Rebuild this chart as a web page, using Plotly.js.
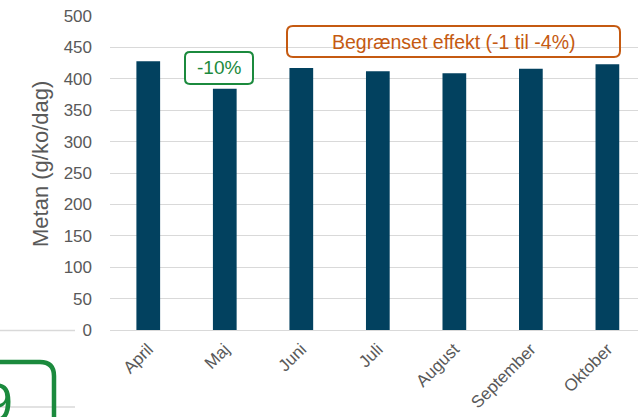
<!DOCTYPE html>
<html>
<head>
<meta charset="utf-8">
<script src="https://cdn.plot.ly/plotly-3.0.1.min.js"></script>
<style>html,body{margin:0;padding:0;background:#fff;}#chart{width:638px;height:417px;}</style>
</head>
<body>
<div id="chart"></div>
<script>
// Data
const months = ["April", "Maj", "Juni", "Juli", "August", "September", "Oktober"];
const methane = [428, 384, 417, 412, 409, 416, 423];
const yTickValues = [0, 50, 100, 150, 200, 250, 300, 350, 400, 450, 500];
const yTitle = "Metan (g/ko/dag)";
const noteGreen = "-10%";
const noteOrange = "Begrænset effekt (-1 til -4%)";
const neighbourText = "9";

// Layout geometry (pixels)
const W = 638, H = 417;
const mL = 110, mR = 0, mT = 16, mB = 87;
const plotW = W - mL - mR, plotH = H - mT - mB;
const px = x => (x - mL) / plotW;
const py = y => (H - mB - y) / plotH;

function roundRect(x0, y0, x1, y1, r) {
  const p = (x, y) => px(x).toFixed(5) + "," + py(y).toFixed(5);
  return "M" + p(x0 + r, y0) + " L" + p(x1 - r, y0) + " Q" + p(x1, y0) + " " + p(x1, y0 + r) +
    " L" + p(x1, y1 - r) + " Q" + p(x1, y1) + " " + p(x1 - r, y1) +
    " L" + p(x0 + r, y1) + " Q" + p(x0, y1) + " " + p(x0, y1 - r) +
    " L" + p(x0, y0 + r) + " Q" + p(x0, y0) + " " + p(x0 + r, y0) + " Z";
}

const green = "#1B8A3D";
const orange = "#C55A11";
const grey = "#595959";

const trace = {
  type: "bar",
  x: months,
  y: methane,
  width: 0.31,
  marker: {color: "#02415F"},
  hoverinfo: "skip"
};

const layout = {
  width: W, height: H,
  margin: {l: mL, r: mR, t: mT, b: mB, pad: 0},
  paper_bgcolor: "#ffffff",
  plot_bgcolor: "#ffffff",
  showlegend: false,
  font: {family: "Liberation Sans, Arial, sans-serif", color: grey},
  xaxis: {
    type: "category",
    range: [-0.5, 6.4],
    tickangle: -45,
    ticks: "",
    ticklabelstandoff: 5,
    tickfont: {size: 17, color: grey},
    showgrid: false,
    showline: false,
    zeroline: false
  },
  yaxis: {
    range: [0, 500],
    tickvals: yTickValues,
    ticks: "",
    ticklabelstandoff: 17,
    tickfont: {size: 17, color: grey},
    showgrid: true,
    gridcolor: "#D9D9D9",
    gridwidth: 1,
    zeroline: true,
    zerolinecolor: "#D9D9D9",
    zerolinewidth: 1,
    showline: false
  },
  shapes: [
    {type: "path", xref: "paper", yref: "paper", path: roundRect(185, 52, 253, 84, 5),
     line: {color: green, width: 2}, fillcolor: "rgba(255,255,255,1)", layer: "above"},
    {type: "path", xref: "paper", yref: "paper", path: roundRect(287, 26, 620, 57, 6),
     line: {color: orange, width: 2}, fillcolor: "rgba(0,0,0,0)", layer: "above"},
    // cut-off neighbour chart on the left
    {type: "line", xref: "paper", yref: "paper", x0: px(0), x1: px(75), y0: py(330.5), y1: py(330.5),
     line: {color: "#D9D9D9", width: 1.5}},
    {type: "line", xref: "paper", yref: "paper", x0: px(0), x1: px(75), y0: py(407), y1: py(407),
     line: {color: "#D9D9D9", width: 1.5}},
    {type: "path", xref: "paper", yref: "paper", path: roundRect(-30, 362, 54, 470, 14),
     line: {color: green, width: 4.5}, fillcolor: "rgba(0,0,0,0)"}
  ],
  annotations: [
    {xref: "paper", yref: "paper", x: px(40), y: py(164), text: yTitle, textangle: -90,
     showarrow: false, xanchor: "center", yanchor: "middle", font: {size: 22, color: grey}},
    {xref: "paper", yref: "paper", x: px(219), y: py(68), text: noteGreen,
     showarrow: false, xanchor: "center", yanchor: "middle", font: {size: 19, color: green}},
    {xref: "paper", yref: "paper", x: px(453.5), y: py(41.5), text: noteOrange,
     showarrow: false, xanchor: "center", yanchor: "middle", font: {size: 19.5, color: orange}},
    {xref: "paper", yref: "paper", x: px(15), y: py(370), text: neighbourText,
     showarrow: false, xanchor: "right", yanchor: "top", font: {size: 54, color: green}}
  ]
};

Plotly.newPlot("chart", [trace], layout, {displayModeBar: false, staticPlot: true});
</script>
</body>
</html>
